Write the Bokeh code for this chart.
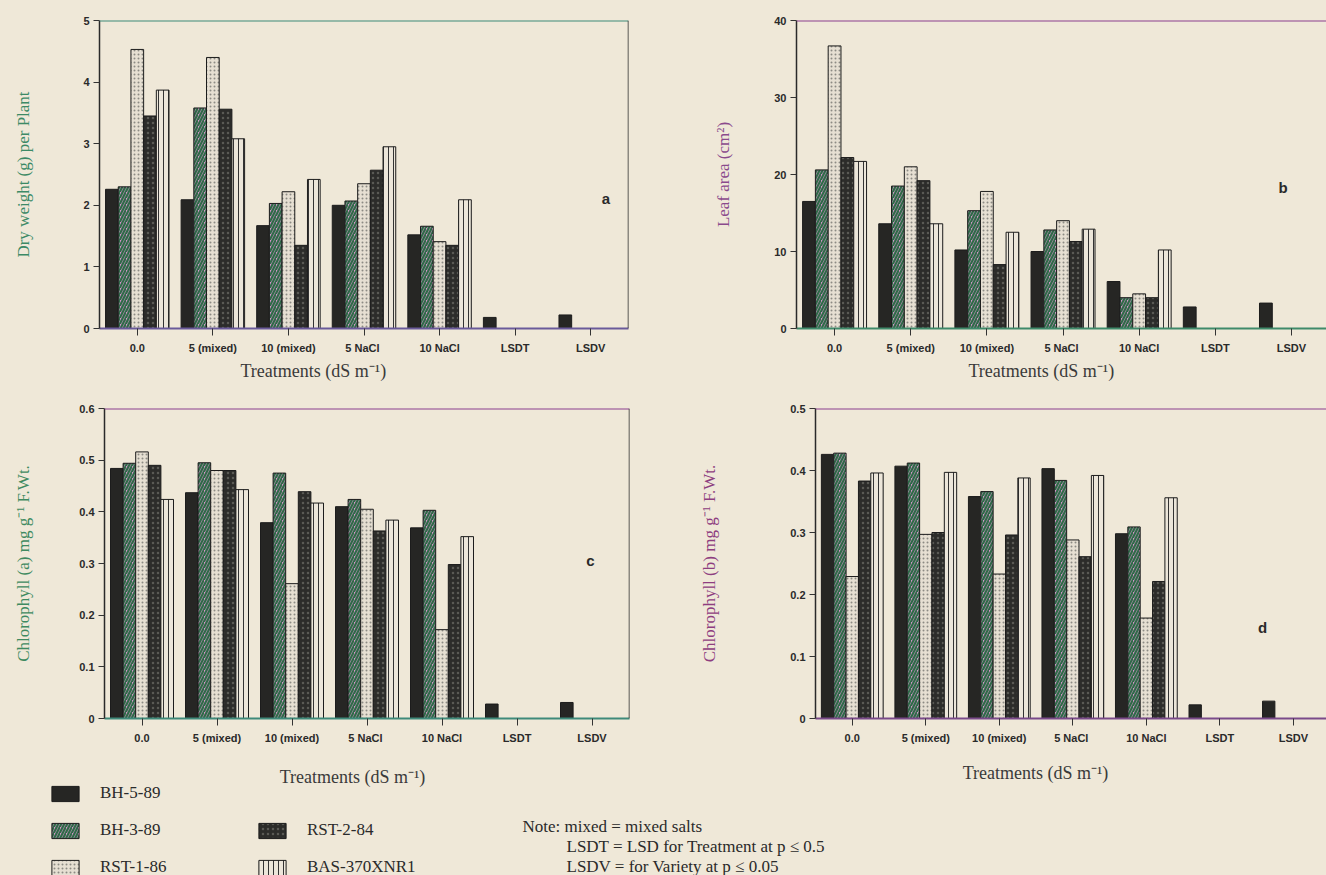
import numpy as np
from bokeh.plotting import figure
from bokeh.layouts import column, row
from bokeh.models import Range1d, FixedTicker, Span, Label, Legend, LegendItem, Title
from bokeh.embed import file_html
from bokeh.resources import INLINE

# ---------------- data ----------------
categories = ["0.0", "5 (mixed)", "10 (mixed)", "5  NaCl", "10 NaCl", "LSDT", "LSDV"]
varieties = ["BH-5-89", "BH-3-89", "RST-1-86", "RST-2-84", "BAS-370XNR1"]
x_title = "Treatments (dS m\u207b\u00b9)"

# (a) Dry weight (g) per plant
dry_bh5 = [2.26, 2.09, 1.67, 2.00, 1.52]
dry_bh3 = [2.30, 3.58, 2.03, 2.07, 1.66]
dry_rst1 = [4.53, 4.40, 2.22, 2.35, 1.41]
dry_rst2 = [3.45, 3.56, 1.35, 2.57, 1.35]
dry_bas = [3.87, 3.08, 2.42, 2.95, 2.09]
dry_lsd = [0.18, 0.22]

# (b) Leaf area (cm2)
leaf_bh5 = [16.5, 13.6, 10.2, 10.0, 6.1]
leaf_bh3 = [20.6, 18.5, 15.3, 12.8, 4.0]
leaf_rst1 = [36.7, 21.0, 17.8, 14.0, 4.5]
leaf_rst2 = [22.2, 19.2, 8.3, 11.3, 4.0]
leaf_bas = [21.7, 13.6, 12.5, 12.9, 10.2]
leaf_lsd = [2.8, 3.3]

# (c) Chlorophyll (a)
chla_bh5 = [0.484, 0.437, 0.379, 0.410, 0.369]
chla_bh3 = [0.494, 0.495, 0.475, 0.424, 0.403]
chla_rst1 = [0.516, 0.480, 0.261, 0.405, 0.172]
chla_rst2 = [0.490, 0.480, 0.439, 0.363, 0.298]
chla_bas = [0.424, 0.443, 0.417, 0.384, 0.352]
chla_lsd = [0.028, 0.031]

# (d) Chlorophyll (b)
chlb_bh5 = [0.426, 0.407, 0.358, 0.403, 0.298]
chlb_bh3 = [0.428, 0.412, 0.366, 0.384, 0.309]
chlb_rst1 = [0.229, 0.297, 0.233, 0.288, 0.162]
chlb_rst2 = [0.383, 0.300, 0.296, 0.261, 0.221]
chlb_bas = [0.396, 0.397, 0.388, 0.392, 0.356]
chlb_lsd = [0.022, 0.028]

yticks_a = [0, 1, 2, 3, 4, 5]
yticks_b = [0, 10, 20, 30, 40]
yticks_c = [0, 0.1, 0.2, 0.3, 0.4, 0.5, 0.6]
yticks_d = [0, 0.1, 0.2, 0.3, 0.4, 0.5]

notes = [
    "Note: mixed  = mixed salts",
    "LSDT  = LSD for Treatment at p \u2264 0.5",
    "LSDV  =  for Variety at p \u2264 0.05",
]

# ---------------- styles ----------------
PAPER = "#efe8d8"
BW = 0.168  # bar width in category units

styles = [
    dict(fill_color="#262624"),
    dict(fill_color="#cf96c6", hatch_pattern="/", hatch_color="#2f6a48",
         hatch_weight=2.2, hatch_scale=6),
    dict(fill_color="#e6dfd2", hatch_pattern=".", hatch_color="#8c8a84",
         hatch_scale=4, hatch_weight=1),
    dict(fill_color="#2c2c2a", hatch_pattern=".", hatch_color="#5a5a55",
         hatch_scale=5, hatch_weight=1),
    dict(fill_color="#ece6da", hatch_pattern="|", hatch_color="#333333",
         hatch_scale=5, hatch_weight=1),
]


def panel(width, height, mbl, mbr, mbt, mbb, x_end, y_end, yticks, series, lsd,
          ylabel, ylabel_color, ystandoff, letter, letter_xy,
          title_offset, top_color, bottom_color, right_border):
    p = figure(width=width, height=height, output_backend="svg",
               toolbar_location=None,
               x_range=Range1d(-0.5, x_end), y_range=Range1d(0, y_end),
               min_border_left=mbl, min_border_right=mbr,
               min_border_top=mbt, min_border_bottom=mbb)
    p.background_fill_color = PAPER
    p.border_fill_color = PAPER
    p.outline_line_color = None
    p.xgrid.visible = False
    p.ygrid.visible = False

    n = len(series[0])
    for k, vals in enumerate(series):
        p.vbar(x=np.arange(n) + (k - 2) * BW, top=vals, bottom=0, width=BW,
               line_color="#1c1c1c", line_width=1, **styles[k])
    p.vbar(x=np.arange(n, n + len(lsd)) - 2 * BW, top=lsd, bottom=0, width=BW,
           line_color="#1c1c1c", line_width=1, **styles[0])

    xa = p.xaxis[0]
    xa.ticker = FixedTicker(ticks=list(range(len(categories))))
    xa.major_label_overrides = {i: c for i, c in enumerate(categories)}
    xa.major_label_text_font = "Liberation Sans"
    xa.major_label_text_font_style = "bold"
    xa.major_label_text_font_size = "11px"
    xa.major_label_text_color = "#2a2a2a"
    xa.major_label_standoff = 6
    xa.major_tick_in = 0
    xa.major_tick_out = 7
    xa.major_tick_line_color = "#333333"
    xa.minor_tick_line_color = None
    xa.axis_line_color = bottom_color
    xa.axis_line_width = 2

    ya = p.yaxis[0]
    ya.ticker = FixedTicker(ticks=yticks)
    ya.major_label_overrides = {0: "0"}
    ya.major_label_text_font = "Liberation Sans"
    ya.major_label_text_font_style = "bold"
    ya.major_label_text_font_size = "11px"
    ya.major_label_text_color = "#2a2a2a"
    ya.major_label_standoff = 4
    ya.major_tick_in = 0
    ya.major_tick_out = 6
    ya.major_tick_line_color = "#333333"
    ya.minor_tick_line_color = None
    ya.axis_line_color = "#2a2a2a"
    ya.axis_line_width = 1.5
    ya.axis_label = ylabel
    ya.axis_label_text_font = "Liberation Serif"
    ya.axis_label_text_font_style = "normal"
    ya.axis_label_text_font_size = "17px"
    ya.axis_label_text_color = ylabel_color
    ya.axis_label_standoff = ystandoff

    p.add_layout(Span(location=y_end, dimension="width",
                      line_color=top_color, line_width=2))
    if right_border:
        p.add_layout(Span(location=x_end, dimension="height",
                          line_color="#2a2a2a", line_width=1.5))

    if title_offset is not None:
        p.add_layout(Title(text=x_title, align="left",
                           offset=title_offset, standoff=5,
                           text_font="Liberation Serif", text_font_size="18px",
                           text_font_style="normal", text_color="#3a3a3a"),
                     "below")
    p.add_layout(Label(x=letter_xy[0], y=letter_xy[1], text=letter,
                       text_font="Liberation Sans", text_font_style="bold",
                       text_font_size="15px", text_color="#2a2a2a",
                       text_align="center", text_baseline="middle"))
    return p


fa = panel(665, 400, 99, 37, 20, 72, 6.5, 5, yticks_a,
           [dry_bh5, dry_bh3, dry_rst1, dry_rst2, dry_bas], dry_lsd,
           "Dry weight (g) per Plant", "#3c8a66", 47,
           "a", (6.2, 2.11), 141, "#3f8a78", "#6a5a9a", True)

fb = panel(661, 400, 131, 0, 17, 68, 6.46, 40, yticks_b,
           [leaf_bh5, leaf_bh3, leaf_rst1, leaf_rst2, leaf_bas], leaf_lsd,
           "Leaf area (cm\u00b2)", "#8a4a8c", 38,
           "b", (5.89, 18.3), 172, "#8b3f8d", "#3f8a6a", False)

fc = panel(665, 362, 104, 36, 8, 44, 6.5, 0.6, yticks_c,
           [chla_bh5, chla_bh3, chla_rst1, chla_rst2, chla_bas], chla_lsd,
           "Chlorophyll (a) mg g\u207b\u00b9 F.Wt.", "#3e8a60", 43,
           "c", (5.98, 0.306), None, "#8b3f8d", "#3f8a7a", True)

fd = panel(661, 362, 150, 0, 7, 43, 6.45, 0.5, yticks_d,
           [chlb_bh5, chlb_bh3, chlb_rst1, chlb_rst2, chlb_bas], chlb_lsd,
           "Chlorophyll (b) mg g\u207b\u00b9 F.Wt.", "#8e3e80", 68,
           "d", (5.58, 0.146), None, "#8b3f8d", "#7a4a8a", False)

# ---------------- bottom strip: lower x titles, legend, notes ----------------
STRIP_H = 113
fl = figure(width=1326, height=STRIP_H, output_backend="svg",
            toolbar_location=None,
            x_range=Range1d(0, 1326), y_range=Range1d(0, STRIP_H),
            x_axis_type=None, y_axis_type=None,
            min_border_left=0, min_border_right=0, min_border_top=0,
            min_border_bottom=0)
fl.background_fill_color = PAPER
fl.border_fill_color = PAPER
fl.outline_line_color = None
fl.xgrid.visible = False
fl.ygrid.visible = False

for tx, ty in [(352, 99), (1035, 103)]:
    fl.add_layout(Label(x=tx, y=ty, text=x_title, text_font="Liberation Serif",
                        text_font_size="18px", text_color="#3a3a3a",
                        text_align="center", text_baseline="middle"))

swatches = []
for k, name in enumerate(varieties):
    r = fl.vbar(x=[np.nan], top=[np.nan], bottom=[np.nan], width=1,
                line_color="#1c1c1c", line_width=1, **styles[k])
    swatches.append(LegendItem(label=name, renderers=[r]))


def make_legend(items, loc):
    return Legend(items=items, location=loc, orientation="vertical",
                  glyph_width=34, glyph_height=19, label_height=19,
                  label_standoff=18, spacing=17, padding=0, margin=0,
                  border_line_color=None, background_fill_alpha=0,
                  label_text_font="Liberation Serif",
                  label_text_font_size="17px", label_text_color="#2a2a2a")


fl.add_layout(make_legend(swatches[:3], (48, -2)))
fl.add_layout(make_legend(swatches[3:], (255, -2)))

note_pos = [(522, 49), (566, 29), (566, 9)]
for txt, (nx, ny) in zip(notes, note_pos):
    fl.add_layout(Label(x=nx, y=ny, text=txt, text_font="Liberation Serif",
                        text_font_size="17px", text_color="#2a2a2a",
                        text_baseline="middle"))

bg = {"background-color": PAPER}
layout = column(row(fa, fb, styles=bg), row(fc, fd, styles=bg), fl, styles=bg)
open("out.html", "w").write(file_html(layout, INLINE))
